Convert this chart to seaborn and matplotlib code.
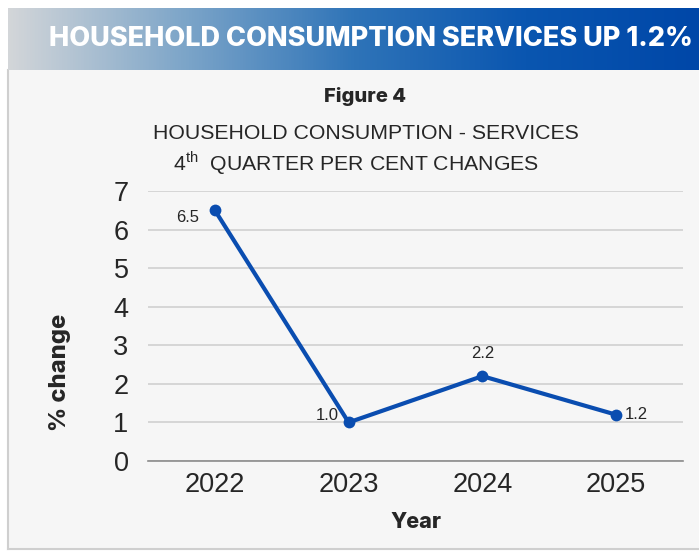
import numpy as np
import pandas as pd
import matplotlib
matplotlib.use("Agg")
import matplotlib.pyplot as plt
import seaborn as sns
from matplotlib.colors import LinearSegmentedColormap

years = ["2022", "2023", "2024", "2025"]
values = [6.5, 1.0, 2.2, 1.2]
value_labels = ["6.5", "1.0", "2.2", "1.2"]
yticks = [0, 1, 2, 3, 4, 5, 6, 7]

banner_title = "HOUSEHOLD CONSUMPTION SERVICES UP 1.2%"
fig_title = "Figure 4"

sns.set_theme(style="white")
plt.rcParams['font.family'] = ['Liberation Sans', 'DejaVu Sans']

fig = plt.figure(figsize=(6.99, 5.51), dpi=100)
fig.patch.set_facecolor("white")

# panel background
panel = fig.add_axes([8/699, 1-549/551, 1-8/699, (549-70)/551])
panel.set_facecolor("#f6f6f6")
panel.set_xticks([]); panel.set_yticks([])
for s in ["top", "right"]:
    panel.spines[s].set_visible(False)
panel.spines["left"].set_color("#cfcfcf"); panel.spines["left"].set_linewidth(1.5)
panel.spines["bottom"].set_color("#cfcfcf"); panel.spines["bottom"].set_linewidth(1.5)

# banner gradient
banner = fig.add_axes([8/699, 1-70/551, 1-8/699, (70-8)/551])
cmap = LinearSegmentedColormap.from_list("b", ["#d3d6d9", "#7ea6c9", "#2f74b8", "#0a56b0", "#0047a8"])
grad = np.linspace(0, 1, 512).reshape(1, -1)
banner.imshow(grad, aspect="auto", cmap=cmap, extent=[0, 1, 0, 1])
banner.set_axis_off()
banner.text(0.525, 0.5, banner_title, color="white", fontsize=19.5, fontweight="heavy",
            ha="center", va="center", family=["Inter", "DejaVu Sans"])

fig.text(365/699, 1-96/551, fig_title, ha="center", va="center", fontsize=14.5,
         fontweight="heavy", family=["Inter", "DejaVu Sans"])
fig.text(366/699, 1-134/551, "HOUSEHOLD CONSUMPTION - SERVICES", ha="center", va="center", fontsize=15.3)
fig.text(356/699, 1-163/551, r"4$^{\mathregular{th}}$  QUARTER PER CENT CHANGES", ha="center", va="center", fontsize=15.3)

ax = fig.add_axes([148/699, 1-461/551, (683-148)/699, (461-191)/551])
ax.set_facecolor("none")
df = pd.DataFrame({"Year": years, "Change": values})
sns.lineplot(data=df, x="Year", y="Change", ax=ax, color="#0a4db0", linewidth=3.0,
             marker="o", markersize=8.5, markeredgewidth=0, sort=False)
ax.set_xlim(-0.5, len(years) - 0.5)
ax.set_ylim(0, 7)
ax.set_yticks(yticks)
ax.set_yticklabels([str(t) for t in yticks])
ax.tick_params(axis="both", length=0, labelsize=19.5)
ax.tick_params(axis="y", pad=14)
ax.tick_params(axis="x", pad=8)
ax.grid(axis="y", color="#d0d0d0", linewidth=1.2)
ax.set_axisbelow(True)
for s in ["top", "right", "left"]:
    ax.spines[s].set_visible(False)
ax.spines["bottom"].set_color("#8c8c8c")
ax.spines["bottom"].set_linewidth(1.2)

# label placement per point: (dx, dy, ha) in points
label_pos = [(-11, -5, "right"), (-7, 5, "right"), (0, 16, "center"), (6, 0, "left")]
for i, (v, lab) in enumerate(zip(values, value_labels)):
    dx, dy, ha = label_pos[i]
    ax.annotate(lab, (i, v), xytext=(dx, dy), textcoords="offset points",
                ha=ha, va="center", fontsize=12)

ax.set_xlabel("Year", fontsize=15.5, fontweight="heavy", family=["Inter", "DejaVu Sans"], labelpad=10)
ax.set_ylabel("% change", fontsize=17, fontweight="heavy", family=["Inter", "DejaVu Sans"])
ax.yaxis.set_label_coords((71-148)/(683-148), (461-372)/(461-191))

fig.savefig("out.png", dpi=100)
